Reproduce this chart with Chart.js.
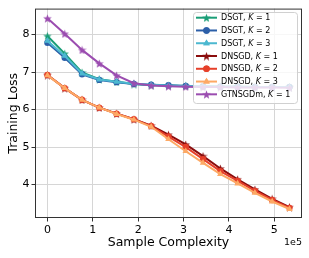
<!DOCTYPE html>
<html>
<head>
<meta charset="utf-8">
<script src="https://cdn.jsdelivr.net/npm/chart.js@4/dist/chart.umd.min.js"></script>
<style>
  html, body { margin: 0; padding: 0; background: #fff; }
  #wrap { width: 309px; height: 258px; }
</style>
</head>
<body>
<div id="wrap"><canvas id="chart" width="309" height="258"></canvas></div>
<script>
const sampleComplexity = [0, 38100, 76200, 114300, 152400, 190500, 228600, 266700, 304800, 342900, 381000, 419100, 457200, 495300, 533400]

const dsgtK1 = [7.96, 7.49, 6.99, 6.81, 6.74, 6.68, 6.65, 6.64, 6.63, 6.62, 6.61, 6.61, 6.60, 6.60, 6.60]
const dsgtK2 = [7.78, 7.38, 6.94, 6.79, 6.73, 6.68, 6.66, 6.65, 6.63, 6.62, 6.61, 6.61, 6.60, 6.60, 6.60]
const dsgtK3 = [7.83, 7.43, 6.96, 6.80, 6.74, 6.69, 6.66, 6.64, 6.63, 6.62, 6.61, 6.61, 6.60, 6.60, 6.60]
const dnsgdK1 = [6.92, 6.57, 6.26, 6.05, 5.89, 5.74, 5.57, 5.33, 5.07, 4.76, 4.43, 4.14, 3.87, 3.62, 3.40]
const dnsgdK2 = [6.92, 6.57, 6.26, 6.05, 5.89, 5.74, 5.56, 5.28, 5.00, 4.68, 4.36, 4.10, 3.83, 3.59, 3.38]
const dnsgdK3 = [6.91, 6.57, 6.26, 6.05, 5.88, 5.73, 5.54, 5.21, 4.89, 4.58, 4.28, 4.03, 3.78, 3.55, 3.35]
const gtnsgdmK1 = [8.43, 8.02, 7.59, 7.23, 6.91, 6.70, 6.64, 6.62, 6.61, 6.60, 6.60, 6.59, 6.59, 6.59, 6.58]

const xTicks = [0, 100000, 200000, 300000, 400000, 500000]
const yTicks = [4, 5, 6, 7, 8]

const seriesNames = ['DSGT', 'DSGT', 'DSGT', 'DNSGD', 'DNSGD', 'DNSGD', 'GTNSGDm']
const seriesK = ['1', '2', '3', '1', '2', '3', '1']
const seriesColors = ['#1b9e77', '#2c5fa8', '#4cb8d0', '#8b0d0d', '#e6402a', '#fda965', '#9b4db0']
const seriesMarkers = ['star', 'circle', 'triangle', 'star', 'circle', 'triangle', 'star']
const seriesData = [dsgtK1, dsgtK2, dsgtK3, dnsgdK1, dnsgdK2, dnsgdK3, gtnsgdmK1]

const fontFamily = "'DejaVu Sans', sans-serif"

// filled five-point star, chart.js' own 'star' is only strokes
const makeStar = (color, size) => {
    const c = document.createElement('canvas')
    c.width = size
    c.height = size
    const ctx = c.getContext('2d')
    const cx = size / 2, cy = size / 2 + 0.5
    const outer = size / 2, inner = outer * 0.42
    ctx.beginPath()
    for (let i = 0; i < 10; i++) {
        const r = i % 2 === 0 ? outer : inner
        const a = -Math.PI / 2 + i * Math.PI / 5
        const px = cx + r * Math.cos(a)
        const py = cy + r * Math.sin(a)
        if (i === 0) ctx.moveTo(px, py)
        else ctx.lineTo(px, py)
    }
    ctx.closePath()
    ctx.fillStyle = color
    ctx.fill()
    return c
}

const markerFor = (i) => seriesMarkers[i] === 'star' ? makeStar(seriesColors[i], 9) : seriesMarkers[i]

const datasets = seriesData.map((vals, i) => ({
    label: `${seriesNames[i]}, K = ${seriesK[i]}`,
    data: vals.map((v, j) => ({ x: sampleComplexity[j], y: v })),
    borderColor: seriesColors[i],
    backgroundColor: seriesColors[i],
    pointBackgroundColor: seriesColors[i],
    pointBorderColor: seriesColors[i],
    pointBorderWidth: 0,
    pointStyle: markerFor(i),
    pointRadius: seriesMarkers[i] === 'triangle' ? 3.8 : 3.2,
    borderWidth: 2,
    tension: 0,
    order: seriesData.length - 1 - i
}))

const framePlugin = {
    id: 'frame',
    afterDraw: (chart) => {
        const { ctx, chartArea: a } = chart
        ctx.save()
        ctx.strokeStyle = '#333'
        ctx.lineWidth = 1
        ctx.strokeRect(a.left + 0.5, a.top + 0.5, a.right - a.left - 1, a.bottom - a.top - 1)

        // offset text of the x axis
        ctx.fillStyle = '#000'
        ctx.font = `9.5px ${fontFamily}`
        ctx.textAlign = 'right'
        ctx.textBaseline = 'middle'
        ctx.fillText('1e5', a.right, 243)

        // legend
        const bx = 193, by = 12, bw = 104, bh = 91
        ctx.globalAlpha = 0.8
        ctx.fillStyle = '#fff'
        ctx.beginPath()
        ctx.roundRect(bx + 0.5, by + 0.5, bw, bh, 3)
        ctx.fill()
        ctx.globalAlpha = 1
        ctx.strokeStyle = '#d0d0d0'
        ctx.stroke()

        const ds = chart.data.datasets
        ds.forEach((d, i) => {
            const y = 17.7 + i * 12.77
            ctx.strokeStyle = seriesColors[i]
            ctx.lineWidth = 2
            ctx.beginPath()
            ctx.moveTo(196, y)
            ctx.lineTo(217, y)
            ctx.stroke()
            const marker = seriesMarkers[i]
            ctx.fillStyle = seriesColors[i]
            if (marker === 'star') {
                const img = makeStar(seriesColors[i], 9)
                ctx.drawImage(img, 206.5 - 4.5, y - 4.5)
            } else {
                Chart.helpers.drawPoint(ctx, { pointStyle: marker, radius: marker === 'triangle' ? 3.8 : 3.2, borderWidth: 0 }, 206.5, y)
                ctx.fill()
            }

            ctx.fillStyle = '#000'
            ctx.textAlign = 'left'
            ctx.textBaseline = 'middle'
            let tx = 221
            const parts = [[`${seriesNames[i]}, `, 'normal'], ['K', 'italic'], [` = ${seriesK[i]}`, 'normal']]
            parts.forEach(([t, style]) => {
                ctx.font = `${style} 8px ${fontFamily}`
                ctx.fillText(t, tx, y + 0.5)
                tx += ctx.measureText(t).width
            })
        })
        ctx.restore()
    }
}

new Chart(document.getElementById('chart').getContext('2d'), {
    type: 'line',
    data: { datasets },
    options: {
        responsive: false,
        animation: false,
        devicePixelRatio: 1,
        layout: { padding: { left: 0, right: 7, top: 7, bottom: 0 } },
        plugins: {
            legend: { display: false },
            tooltip: { enabled: false }
        },
        scales: {
            x: {
                type: 'linear',
                min: -27400,
                max: 561000,
                afterBuildTicks: (scale) => { scale.ticks = xTicks.map(v => ({ value: v })) },
                afterFit: (scale) => { scale.height = 40 },
                ticks: {
                    color: '#000',
                    font: { family: fontFamily, size: 11 },
                    padding: 2,
                    maxRotation: 0,
                    callback: (v) => String(v / 100000)
                },
                grid: { color: '#d6d6d6', lineWidth: 1, tickLength: 3.5, tickColor: '#333' },
                border: { display: false },
                title: {
                    display: true,
                    text: 'Sample Complexity',
                    color: '#000',
                    font: { family: fontFamily, size: 12.5 },
                    padding: { top: 0, bottom: 7.5 }
                }
            },
            y: {
                type: 'linear',
                min: 3.11,
                max: 8.69,
                afterBuildTicks: (scale) => { scale.ticks = yTicks.map(v => ({ value: v })) },
                afterFit: (scale) => { scale.width = 35 },
                ticks: {
                    color: '#000',
                    font: { family: fontFamily, size: 11 },
                    padding: 2,
                    callback: (v) => String(v)
                },
                grid: { color: '#d6d6d6', lineWidth: 1, tickLength: 3.5, tickColor: '#333' },
                border: { display: false },
                title: {
                    display: true,
                    text: 'Training Loss',
                    color: '#000',
                    font: { family: fontFamily, size: 12.5 },
                    padding: { top: 6, bottom: 0 }
                }
            }
        }
    },
    plugins: [framePlugin]
})
</script>
</body>
</html>
